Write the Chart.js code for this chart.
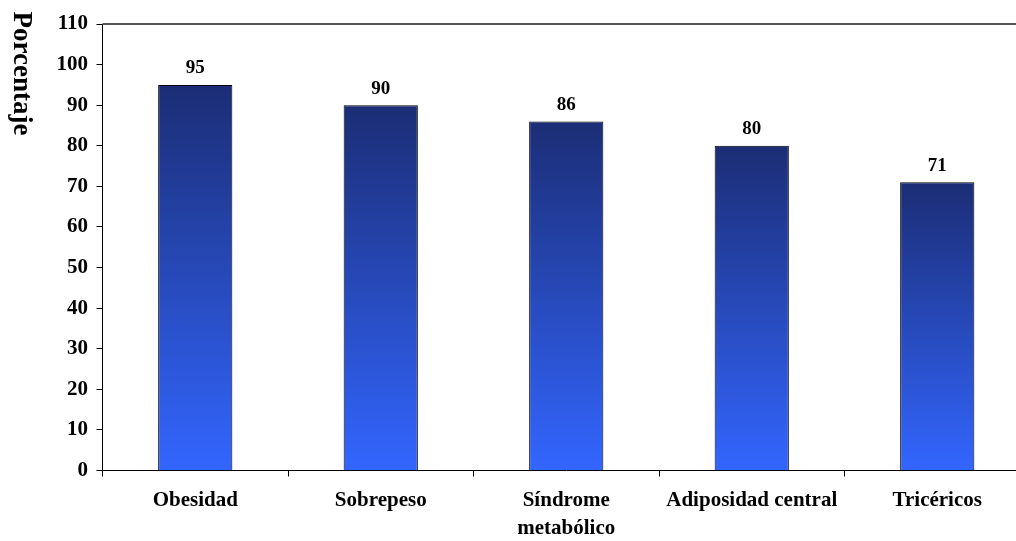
<!DOCTYPE html>
<html>
<head>
<meta charset="utf-8">
<script src="https://cdn.jsdelivr.net/npm/chart.js@4.4.1/dist/chart.umd.min.js"></script>
<style>
  html, body { margin: 0; padding: 0; background: #ffffff; overflow: hidden; }
  #wrap { position: relative; width: 1030px; height: 541px; }
</style>
</head>
<body>
<div id="wrap"><canvas id="chart"></canvas></div>
<script>
// Categories and percentages
const categories = ['Obesidad', 'Sobrepeso', ['Síndrome', 'metabólico'], 'Adiposidad central', 'Tricéricos'];
const percentages = [95, 90, 86, 80, 71];
const yTitle = 'Porcentaje';

const serif = "'Liberation Serif', 'Times New Roman', serif";

// Vertical gradient per bar: dark navy at the top, bright blue at the base
function barGradient(ctx) {
  const chart = ctx.chart;
  const scales = chart.scales;
  if (!chart.chartArea || !scales.y || ctx.raw === undefined) return '#2a4cc0';
  const top = scales.y.getPixelForValue(ctx.raw);
  const bottom = scales.y.getPixelForValue(0);
  const g = chart.ctx.createLinearGradient(0, top, 0, bottom);
  g.addColorStop(0, '#1b2d75');
  g.addColorStop(1, '#3366ff');
  return g;
}

// Value above each bar
const valueLabels = {
  id: 'valueLabels',
  afterDatasetsDraw(chart) {
    const c = chart.ctx;
    const meta = chart.getDatasetMeta(0);
    c.save();
    c.font = 'bold 19px ' + serif;
    c.fillStyle = '#000';
    c.textAlign = 'center';
    c.textBaseline = 'alphabetic';
    meta.data.forEach((bar, i) => {
      c.fillText(String(percentages[i]), bar.x, bar.y - 11.5);
    });
    c.restore();
  }
};

// Thin frame line along the top of the plot and the rotated axis title
const frameAndTitle = {
  id: 'frameAndTitle',
  afterDraw(chart) {
    const c = chart.ctx;
    const a = chart.chartArea;
    c.save();
    c.strokeStyle = '#555';
    c.lineWidth = 2;
    c.beginPath();
    c.moveTo(a.left, a.top);
    c.lineTo(a.right, a.top);
    c.stroke();

    c.translate(21, 73.5);
    c.rotate(Math.PI / 2);
    c.font = 'bold 27px ' + serif;
    c.fillStyle = '#000';
    c.textAlign = 'center';
    c.textBaseline = 'middle';
    c.fillText(yTitle, 0, 0);
    c.restore();
  }
};

new Chart(document.getElementById('chart'), {
  type: 'bar',
  data: {
    labels: categories,
    datasets: [{
      data: percentages,
      backgroundColor: barGradient,
      borderColor: '#000',
      borderWidth: 1,
      barPercentage: 0.4,
      categoryPercentage: 1.0
    }]
  },
  options: {
    responsive: true,
    maintainAspectRatio: false,
    animation: false,
    layout: { padding: { top: 24, left: 0, right: 0, bottom: 0 } },
    plugins: {
      legend: { display: false },
      tooltip: { enabled: false }
    },
    scales: {
      x: {
        grid: { display: true, drawOnChartArea: false, drawTicks: true, tickLength: 6, color: '#000', offset: true },
        border: { display: true, color: '#000', width: 1 },
        ticks: {
          color: '#000',
          font: { family: serif, size: 21, weight: 'bold', lineHeight: 1.33 },
          padding: 10,
          maxRotation: 0,
          autoSkip: false
        },
        afterFit(scale) { scale.height = 70.5; }
      },
      y: {
        min: 0,
        max: 110,
        grid: { display: true, drawOnChartArea: false, drawTicks: true, tickLength: 6, color: '#000' },
        border: { display: true, color: '#000', width: 1 },
        ticks: {
          stepSize: 10,
          color: '#000',
          font: { family: serif, size: 21, weight: 'bold' },
          padding: 8.5
        },
        afterFit(scale) { scale.width = 102.5; }
      }
    }
  },
  plugins: [valueLabels, frameAndTitle]
});
</script>
</body>
</html>
